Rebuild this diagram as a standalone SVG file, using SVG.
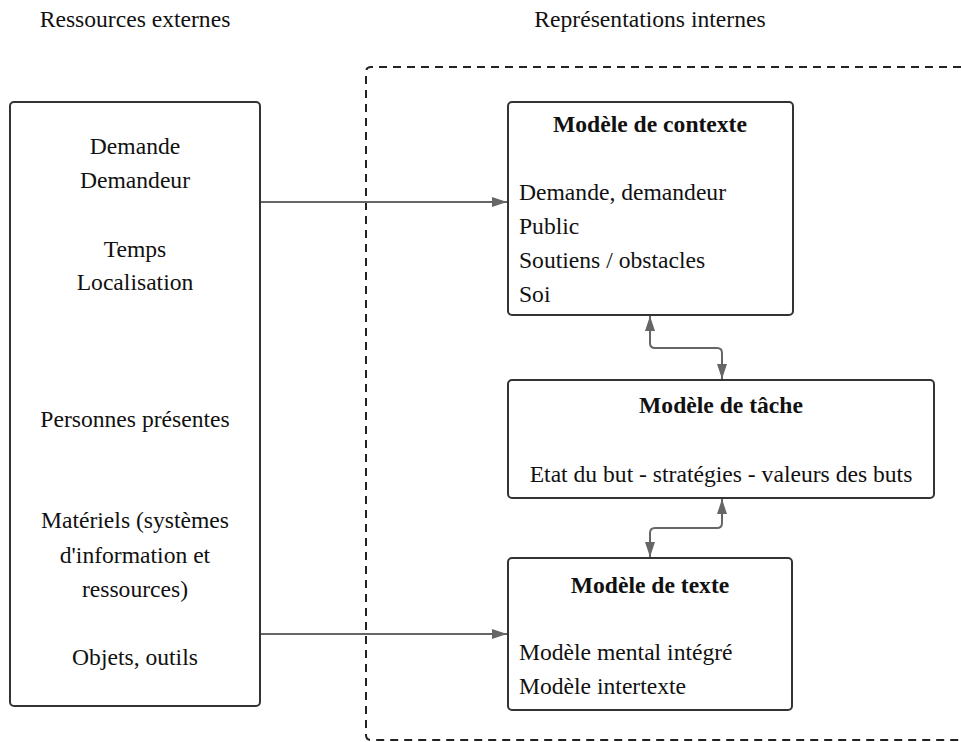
<svg xmlns="http://www.w3.org/2000/svg" width="961" height="742" viewBox="0 0 961 742">
<defs>
<style>
text{font-family:"Liberation Serif","Times New Roman",serif;font-size:23.6px;fill:#111}
.c{text-anchor:middle}
.b{font-weight:bold}
.box{fill:#fff;stroke:#333;stroke-width:2}
.con{fill:none;stroke:#666;stroke-width:2}
.dash{fill:none;stroke:#222;stroke-width:2;stroke-dasharray:8 6}
</style>
<marker id="ah" markerWidth="16" markerHeight="12" refX="15" refY="6" orient="auto-start-reverse" markerUnits="userSpaceOnUse">
<path d="M0,1 L15,6 L0,11 Z" fill="#666"/>
</marker>
</defs>
<rect width="961" height="742" fill="#fff"/>
<text class="c" x="135" y="27">Ressources externes</text>
<text class="c" x="650" y="27">Représentations internes</text>
<path id="container" class="dash" d="M975 67 H371 Q366 67 366 72 V735 Q366 740 371 740 H975"/>
<g id="connectors">
<path class="con" d="M260 202 H507" marker-end="url(#ah)"/>
<path class="con" d="M260 634 H507" marker-end="url(#ah)"/>
<path class="con" d="M650 316 V343 Q650 348 655 348 H717 Q722 348 722 353 V379" marker-start="url(#ah)" marker-end="url(#ah)"/>
<path class="con" d="M722 499 V523 Q722 528 717 528 H655 Q650 528 650 533 V557" marker-start="url(#ah)" marker-end="url(#ah)"/>
</g>
<g id="externes">
<rect class="box" x="10" y="102" width="250" height="604" rx="4"/>
<text class="c" x="135" y="154">Demande</text>
<text class="c" x="135" y="188">Demandeur</text>
<text class="c" x="135" y="257">Temps</text>
<text class="c" x="135" y="290">Localisation</text>
<text class="c" x="135" y="427">Personnes présentes</text>
<text class="c" x="135" y="528">Matériels (systèmes</text>
<text class="c" x="135" y="563">d'information et</text>
<text class="c" x="135" y="597">ressources)</text>
<text class="c" x="135" y="665">Objets, outils</text>
</g>
<g id="contexte">
<rect class="box" x="508" y="102" width="285" height="213" rx="4"/>
<text class="c b" x="650" y="132">Modèle de contexte</text>
<text x="519" y="200">Demande, demandeur</text>
<text x="519" y="234">Public</text>
<text x="519" y="268">Soutiens / obstacles</text>
<text x="519" y="302">Soi</text>
</g>
<g id="tache">
<rect class="box" x="508" y="380" width="426" height="118" rx="4"/>
<text class="c b" x="721" y="413">Modèle de tâche</text>
<text class="c" x="721" y="482">Etat du but - stratégies - valeurs des buts</text>
</g>
<g id="texte">
<rect class="box" x="508" y="558" width="284" height="152" rx="4"/>
<text class="c b" x="650" y="593">Modèle de texte</text>
<text x="519" y="660">Modèle mental intégré</text>
<text x="519" y="694">Modèle intertexte</text>
</g>
</svg>
